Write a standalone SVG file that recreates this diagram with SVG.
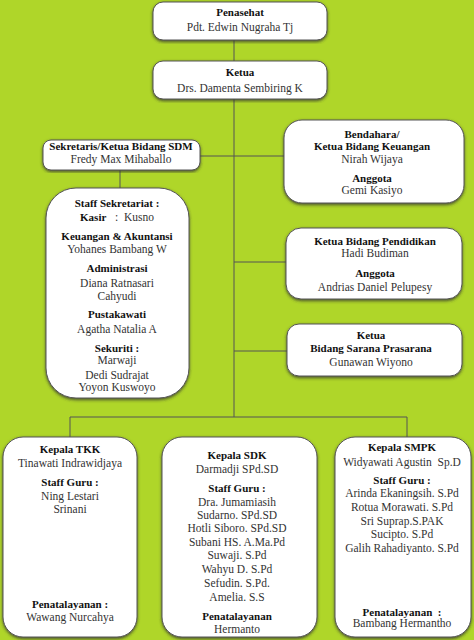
<svg xmlns="http://www.w3.org/2000/svg" width="474" height="640" viewBox="0 0 474 640">
<defs>
<filter id="sh" x="-10%" y="-10%" width="120%" height="120%">
<feDropShadow dx="0" dy="1.5" stdDeviation="1.5" flood-color="#333" flood-opacity="0.8"/>
</filter>
</defs>
<style>
.box{fill:#fff;stroke:#555;stroke-width:1;filter:url(#sh)}
.ln{stroke:#555;stroke-width:1;fill:none}
text{font-family:"Liberation Serif","Times New Roman",serif;font-size:11.5px;text-anchor:middle;fill:#333;white-space:pre}
.b{font-weight:bold;fill:#111;font-size:11px}
</style>
<rect x="0" y="0" width="474" height="640" fill="#afd629"/>
<g id="connectors">
<path class="ln" d="M234 40V417M200 156H284M234 262H286M234 351H287M120 170V188M70 417H407M70 417V437M407 417V437"/>
</g>
<g id="penasehat">
<rect class="box" x="153" y="2" width="174" height="38" rx="10"/>
<text class="b" x="240" y="16">Penasehat</text>
<text x="240" y="31">Pdt. Edwin Nugraha Tj</text>
</g>
<g id="ketua">
<rect class="box" x="153" y="61" width="174" height="38" rx="10"/>
<text class="b" x="240" y="76">Ketua</text>
<text x="240" y="92">Drs. Damenta Sembiring K</text>
</g>
<g id="sekretaris">
<rect class="box" x="43" y="140" width="157" height="30" rx="8"/>
<text class="b" x="121" y="150">Sekretaris/Ketua Bidang SDM</text>
<text x="121" y="163">Fredy Max Mihaballo</text>
</g>
<g id="staff-sekretariat">
<rect class="box" x="46" y="188" width="143" height="210" rx="30"/>
<text class="b" x="117" y="207">Staff Sekretariat :</text>
<text x="117" y="221"><tspan class="b">Kasir</tspan>   :  Kusno</text>
<text class="b" x="117" y="240">Keuangan &amp; Akuntansi</text>
<text x="117" y="253">Yohanes Bambang W</text>
<text class="b" x="117" y="272">Administrasi</text>
<text x="117" y="287">Diana Ratnasari</text>
<text x="117" y="300">Cahyudi</text>
<text class="b" x="117" y="318">Pustakawati</text>
<text x="117" y="333">Agatha Natalia A</text>
<text class="b" x="117" y="352">Sekuriti :</text>
<text x="117" y="364">Marwaji</text>
<text x="117" y="379">Dedi Sudrajat</text>
<text x="117" y="391">Yoyon Kuswoyo</text>
</g>
<g id="bendahara">
<rect class="box" x="284" y="120" width="180" height="83" rx="18"/>
<text class="b" x="372" y="138">Bendahara/</text>
<text class="b" x="372" y="150">Ketua Bidang Keuangan</text>
<text x="372" y="163">Nirah Wijaya</text>
<text class="b" x="372" y="182">Anggota</text>
<text x="372" y="194">Gemi Kasiyo</text>
</g>
<g id="pendidikan">
<rect class="box" x="286" y="228" width="176" height="71" rx="15"/>
<text class="b" x="375" y="245">Ketua Bidang Pendidikan</text>
<text x="375" y="257">Hadi Budiman</text>
<text class="b" x="375" y="277">Anggota</text>
<text x="375" y="291">Andrias Daniel Pelupesy</text>
</g>
<g id="sarana">
<rect class="box" x="287" y="324" width="175" height="52" rx="12"/>
<text class="b" x="371" y="339">Ketua</text>
<text class="b" x="371" y="352">Bidang Sarana Prasarana</text>
<text x="371" y="366">Gunawan Wiyono</text>
</g>
<g id="tkk">
<rect class="box" x="3" y="437" width="134" height="200" rx="20"/>
<text class="b" x="70" y="453">Kepala TKK</text>
<text x="70" y="467">Tinawati Indrawidjaya</text>
<text class="b" x="70" y="486">Staff Guru :</text>
<text x="70" y="500">Ning Lestari</text>
<text x="70" y="513">Srinani</text>
<text class="b" x="70" y="608">Penatalayanan :</text>
<text x="70" y="621">Wawang Nurcahya</text>
</g>
<g id="sdk">
<rect class="box" x="162" y="437" width="155" height="200" rx="20"/>
<text class="b" x="237" y="459">Kepala SDK</text>
<text x="237" y="473">Darmadji SPd.SD</text>
<text class="b" x="237" y="492">Staff Guru :</text>
<text x="237" y="506">Dra. Jumamiasih</text>
<text x="237" y="519">Sudarno. SPd.SD</text>
<text x="237" y="532">Hotli Siboro. SPd.SD</text>
<text x="237" y="546">Subani HS. A.Ma.Pd</text>
<text x="237" y="559">Suwaji. S.Pd</text>
<text x="237" y="573">Wahyu D. S.Pd</text>
<text x="237" y="587">Sefudin. S.Pd.</text>
<text x="237" y="601">Amelia. S.S</text>
<text class="b" x="237" y="620">Penatalayanan</text>
<text x="237" y="633">Hermanto</text>
</g>
<g id="smpk">
<rect class="box" x="335" y="437" width="136" height="200" rx="20"/>
<text class="b" x="402" y="451">Kepala SMPK</text>
<text x="402" y="466">Widyawati Agustin  Sp.D</text>
<text class="b" x="402" y="484">Staff Guru :</text>
<text x="402" y="497">Arinda Ekaningsih. S.Pd</text>
<text x="402" y="511">Rotua Morawati. S.Pd</text>
<text x="402" y="525">Sri Suprap.S.PAK</text>
<text x="402" y="538">Sucipto. S.Pd</text>
<text x="402" y="552">Galih Rahadiyanto. S.Pd</text>
<text class="b" x="402" y="616">Penatalayanan  :</text>
<text x="402" y="627">Bambang Hermantho</text>
</g>
</svg>
